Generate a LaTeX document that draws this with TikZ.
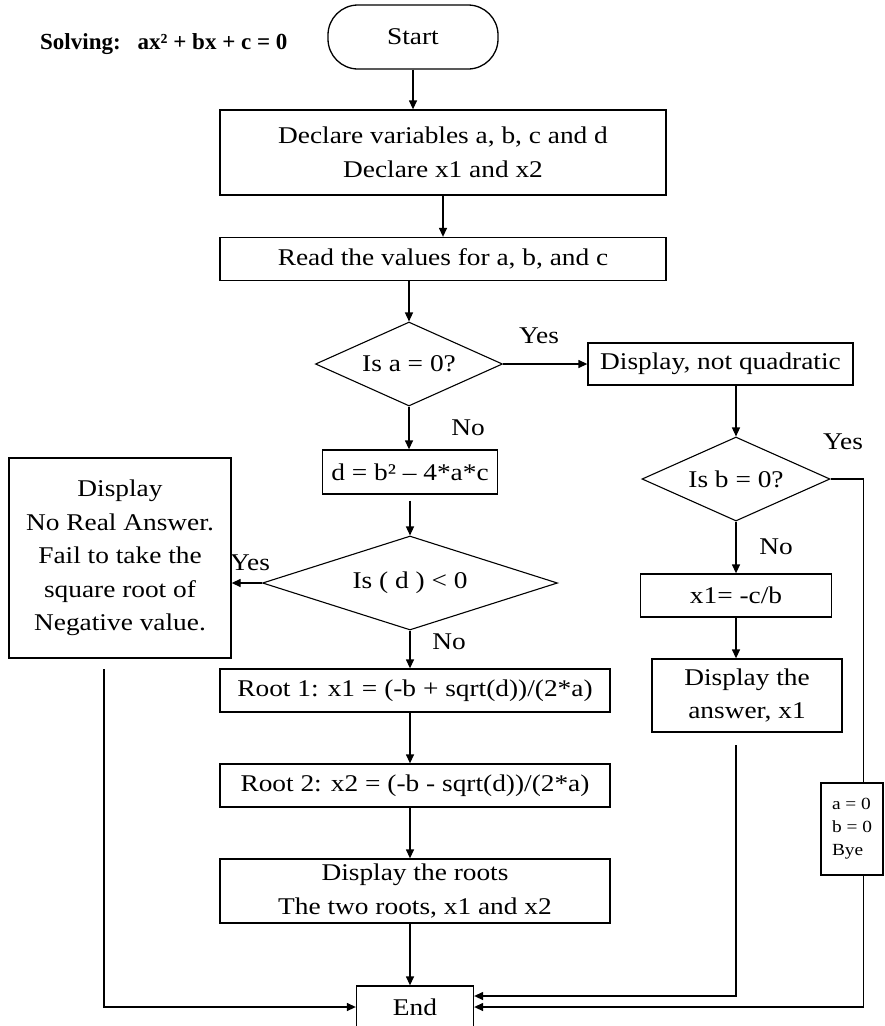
\documentclass[tikz,border=0pt]{standalone}
\usepackage{fontspec}
\setmainfont[FakeStretch=1.14]{Liberation Serif}
\newfontfamily\titlefont{Liberation Serif}
\usetikzlibrary{shapes.geometric,arrows.meta}

\begin{document}
\begin{tikzpicture}[x=1pt,y=-1pt,
  every node/.style={inner sep=0pt},
  txt/.style={font=\fontsize{24}{33.5}\selectfont, align=center},
  small/.style={font=\fontsize{17}{23}\selectfont, align=left},
  box/.style={txt, draw, line width=1.3pt, rectangle},
  decision/.style={txt, draw, line width=1.1pt, diamond},
  flow/.style={line width=1.3pt, -{Triangle[length=9pt,width=8pt]}},
]
\fill[white] (0,0) rectangle (885,1026);
\useasboundingbox (0,0) rectangle (885,1026);

% heading
\node[anchor=west, font=\titlefont\bfseries\fontsize{23}{27}\selectfont] (title) at (40,44)
  {Solving:\hspace{17pt}ax² + bx + c = 0};

% main column
\node[box, rounded corners=30pt, minimum width=170pt, minimum height=64pt] (start) at (413,37) {Start};
\node[box, minimum width=446pt, minimum height=85pt] (decl) at (443,152.5)
  {Declare variables a, b, c and d\\Declare x1 and x2};
\node[box, minimum width=446pt, minimum height=43pt] (read) at (443,259)
  {Read the values for a, b, and c};
\node[decision, aspect=2.2, minimum width=187pt, minimum height=84pt] (isa) at (409,364) {Is a = 0?};
\node[box, minimum width=175pt, minimum height=44pt] (dcalc) at (410,472) {d = b² – 4*a*c};
\node[decision, aspect=3.1, minimum width=295pt, minimum height=94pt] (isd) at (410,583) {Is ( d ) < 0};
\node[box, minimum width=390pt, minimum height=43pt] (root1) at (415,690.5)
  {Root 1: x1 = (-b + sqrt(d))/(2*a)};
\node[box, minimum width=390pt, minimum height=43pt] (root2) at (415,785.5)
  {Root 2: x2 = (-b - sqrt(d))/(2*a)};
\node[box, minimum width=390pt, minimum height=64pt] (roots) at (415,891)
  {Display the roots\\The two roots, x1 and x2};
\node[box, minimum width=117pt, minimum height=42pt] (end) at (415,1007) {End};

% negative discriminant branch
\node[box, minimum width=222pt, minimum height=200pt] (neg) at (120,558)
  {Display\\No Real Answer.\\Fail to take the\\square root of\\Negative value.};

% a = 0 branch
\node[box, minimum width=265pt, minimum height=42pt] (notq) at (720.5,364) {Display, not quadratic};
\node[decision, aspect=2.2, minimum width=188pt, minimum height=84pt] (isb) at (736,479) {Is b = 0?};
\node[box, minimum width=191pt, minimum height=43pt] (xone) at (736,595.5) {x1= -c/b};
\node[box, minimum width=190pt, minimum height=73pt] (ans) at (747,695.5) {Display the\\answer, x1};

% free ends of the return lines
\coordinate (negout) at (104,669);
\coordinate (ansout) at (736,745);

% connectors
\draw[flow] (start.south) -- (start.south |- decl.north);
\draw[flow] (decl.south) -- (read.north);
\draw[flow] (isa.north |- read.south) -- (isa.north);
\draw[flow] (isa.east) -- (notq.west);
\draw[flow] (isa.south) -- (isa.south |- dcalc.north);
\draw[flow] ([yshift=-6pt]isd.north |- dcalc.south) -- (isd.north);
\draw[flow] (isd.west) -- (isd.west -| neg.east);
\draw[flow] (isd.south) -- (isd.south |- root1.north);
\draw[flow] (isd.south |- root1.south) -- (isd.south |- root2.north);
\draw[flow] (isd.south |- root2.south) -- (isd.south |- roots.north);
\draw[flow] (isd.south |- roots.south) -- (isd.south |- end.north);
\draw[flow] (isb.north |- notq.south) -- (isb.north);
\draw[flow] (isb.south) -- (xone.north);
\draw[flow] (xone.south) -- (xone.south |- ans.north);
\draw[flow] (negout) |- (end.west);
\draw[flow] (ansout) |- ([yshift=11pt]end.east);
\draw[flow] (isb.east) -- ++(33,0) |- (end.east);

% label box sitting on the right-hand line
\node[draw, fill=white, line width=1.2pt, small, minimum width=62pt, minimum height=92pt] (bye) at (852,829)
  {a = 0\\b = 0\\Bye};

% branch labels
\node[txt] (yesa) at (539,336) {Yes};
\node[txt] (noa) at (468,428) {No};
\node[txt] (yesb) at (843,442) {Yes};
\node[txt] (nob) at (776,547) {No};
\node[txt] (yesd) at (250,563) {Yes};
\node[txt] (nod) at (449,642) {No};
\end{tikzpicture}
\end{document}
